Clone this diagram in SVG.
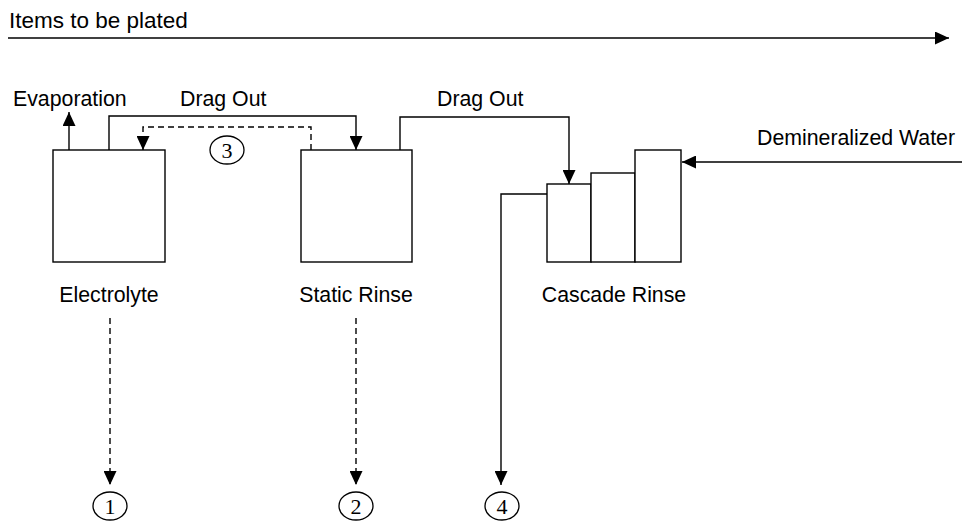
<svg xmlns="http://www.w3.org/2000/svg" width="962" height="527" viewBox="0 0 962 527">
<style>
text{font-family:"Liberation Sans",Arial,sans-serif;font-size:21.3px;fill:#000}
.num{font-family:"Liberation Serif","Times New Roman",serif;font-size:22px;text-anchor:middle}
.mid{text-anchor:middle}
.box{fill:#fff;stroke:#000;stroke-width:1.4}
.ln{fill:none;stroke:#000;stroke-width:1.4}
.dash{stroke-dasharray:6,4}
.circ{fill:#fff;stroke:#000;stroke-width:1.3}
</style>
<defs>
<marker id="ah" markerWidth="14" markerHeight="13" viewBox="0 0 14 13" refX="14" refY="6.5" orient="auto" markerUnits="userSpaceOnUse">
<path d="M0,0 L14,6.5 L0,13 Z" fill="#000"/>
</marker>
</defs>
<g id="title">
<text x="9" y="28" style="font-size:22.5px">Items to be plated</text>
</g>
<g id="electrolyte">
<rect class="box" x="53" y="150" width="112" height="112"/>
<text class="mid" x="109" y="302">Electrolyte</text>
</g>
<g id="static-rinse">
<rect class="box" x="301" y="150" width="111" height="112"/>
<text class="mid" x="356" y="302">Static Rinse</text>
</g>
<g id="cascade-rinse">
<rect class="box" x="547" y="184" width="44" height="78"/>
<rect class="box" x="591" y="173" width="44" height="89"/>
<rect class="box" x="635" y="150" width="46" height="112"/>
<text class="mid" x="614" y="302">Cascade Rinse</text>
</g>
<g id="labels">
<text x="13" y="106">Evaporation</text>
<text x="180" y="106">Drag Out</text>
<text x="437" y="106">Drag Out</text>
<text x="757" y="145">Demineralized Water</text>
</g>
<g id="n1"><ellipse class="circ" cx="110" cy="506" rx="17" ry="14"/><text class="num" x="110" y="514">1</text></g>
<g id="n2"><ellipse class="circ" cx="356" cy="506" rx="17" ry="14"/><text class="num" x="356" y="514">2</text></g>
<g id="n3"><ellipse class="circ" cx="227" cy="150" rx="17" ry="14"/><text class="num" x="227" y="158">3</text></g>
<g id="n4"><ellipse class="circ" cx="502" cy="506" rx="17" ry="14"/><text class="num" x="502" y="514">4</text></g>
<g id="connectors">
<path class="ln" d="M8,38 H949" marker-end="url(#ah)"/>
<path class="ln" d="M69,150 V112" marker-end="url(#ah)"/>
<path class="ln" d="M109,150 V116 H356 V150" marker-end="url(#ah)"/>
<path class="ln dash" d="M311,150 V127 H143 V150" marker-end="url(#ah)"/>
<path class="ln" d="M400,150 V117 H569 V184" marker-end="url(#ah)"/>
<path class="ln" d="M962,162 H682" marker-end="url(#ah)"/>
<path class="ln" d="M547,194 H501 V485" marker-end="url(#ah)"/>
<path class="ln dash" d="M110,318 V485" marker-end="url(#ah)"/>
<path class="ln dash" d="M356,318 V485" marker-end="url(#ah)"/>
</g>
</svg>
